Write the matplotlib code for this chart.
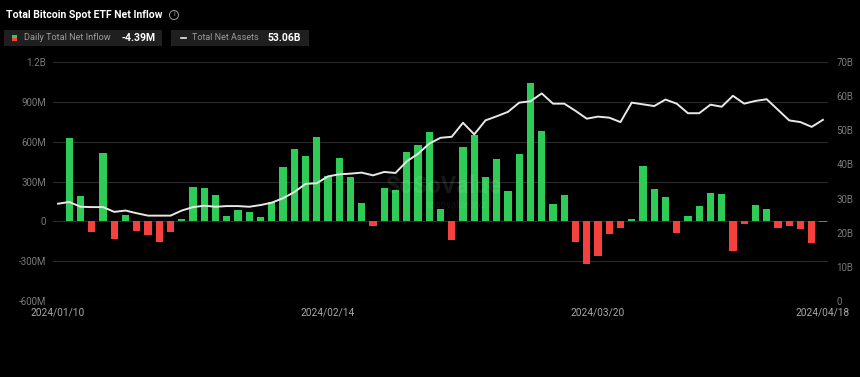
import numpy as np
import pandas as pd
import matplotlib
matplotlib.use("Agg")
import matplotlib.pyplot as plt
import matplotlib.patches as mpatches

plt.rcParams["font.family"] = ["Roboto", "DejaVu Sans"]

# trading days, 2024/01/10 -> 2024/04/18
days = pd.bdate_range("2024-01-10", "2024-04-18")
days = days.drop(pd.to_datetime(["2024-01-15", "2024-02-19", "2024-03-29"]))
date_labels = [d.strftime("%Y/%m/%d") for d in days]

# daily total net inflow (million USD)
inflow_m = [
    np.nan, 628, 193, -80, 517, -135, 45, -75, -105, -158,
    -80, 17, 258, 250, 200, 40, 83, 70, 35, 148,
    408, 543, 493, 633, 345, 478, 335, 138, -35, 253,
    235, 520, 578, 673, 95, -138, 563, 648, 335, 473,
    225, 505, 1045, 683, 134, 200, -153, -323, -260, -93,
    -50, 17, 418, 245, 185, -85, 43, 115, 215, 205,
    -223, -18, 125, 95, -53, -35, -58, -163, -4.39,
]

# total net assets (billion USD)
assets_b = [
    28.5, 29.0, 27.6, 27.5, 27.5, 26.1, 26.5, 25.7, 25.0, 25.0,
    25.0, 26.5, 27.5, 27.9, 27.6, 27.8, 27.8, 27.6, 28.1, 28.8,
    30.1, 31.9, 34.3, 34.5, 36.5, 37.1, 37.3, 37.6, 36.8, 37.8,
    37.5, 40.9, 43.1, 46.1, 47.8, 48.1, 52.2, 48.8, 52.9, 54.1,
    55.4, 58.1, 58.5, 60.8, 57.8, 57.8, 55.7, 53.4, 54.0, 53.7,
    52.4, 58.1, 57.6, 57.1, 59.0, 57.8, 55.0, 55.0, 57.5, 56.9,
    60.1, 57.8, 58.6, 59.1, 56.0, 52.9, 52.4, 51.0, 53.06,
]

left_ticks = [-600, -300, 0, 300, 600, 900, 1200]
left_labels = ["-600M", "-300M", "0", "300M", "600M", "900M", "1.2B"]
right_ticks = [0, 10, 20, 30, 40, 50, 60, 70]
right_labels = ["0", "10B", "20B", "30B", "40B", "50B", "60B", "70B"]
x_tick_idx = [0, 24, 48, 68]

VERT = "#2FCB57"
ROUGE = "#F5413D"
FOND = "#000000"
GRILLE = "#2B2B2B"
TXT_AXE = "#7A7A7A"
BLANC = "#E8E8E8"

fig = plt.figure(figsize=(8.6, 3.77), dpi=100)
fig.patch.set_facecolor(FOND)

ax = fig.add_axes([53 / 860, 76 / 377, 775 / 860, 239 / 377])
ax.set_facecolor(FOND)
x = np.arange(len(days))
vals = np.array(inflow_m, dtype=float)
couleurs = [VERT if v >= 0 else ROUGE for v in np.nan_to_num(vals)]
ax.bar(x, np.nan_to_num(vals), width=0.65, color=couleurs, zorder=2)

ax.set_xlim(-0.45, len(days) - 0.55)
ax.set_ylim(-600, 1200)
ax.set_yticks(left_ticks)
ax.set_yticklabels(left_labels)
ax.set_xticks(x_tick_idx)
ax.set_xticklabels([date_labels[i] for i in x_tick_idx])
ax.grid(axis="y", color=GRILLE, linewidth=0.8, zorder=0)
ax.tick_params(axis="y", length=0, pad=5, labelsize=7, labelcolor=TXT_AXE)
ax.tick_params(axis="x", length=0, pad=5, labelsize=7.3, labelcolor="#A8A8A8")
for s in ax.spines.values():
    s.set_visible(False)

ax2 = ax.twinx()
ax2.plot(x, assets_b, color=BLANC, linewidth=1.4, zorder=3)
ax2.set_ylim(0, 70)
ax2.set_yticks(right_ticks)
ax2.set_yticklabels(right_labels)
ax2.tick_params(axis="y", length=0, pad=6, labelsize=7, labelcolor=TXT_AXE)
for s in ax2.spines.values():
    s.set_visible(False)

# watermark
fig.text(0.515, 0.505, "SoSoValue", color="white", alpha=0.09, fontsize=17,
         fontweight="bold", ha="center", va="center")
fig.text(0.53, 0.455, "sosovalue.xyz", color="white", alpha=0.08, fontsize=7,
         ha="center", va="center")

# title
fig.text(6 / 860, 1 - 15 / 377, "Total Bitcoin Spot ETF Net Inflow", color="white",
         fontsize=7.6, fontweight="bold", va="center", ha="left")
fig.patches.append(mpatches.Ellipse((174 / 860, 1 - 15 / 377), 9 / 860, 9 / 377,
                                    transform=fig.transFigure, fill=False,
                                    edgecolor="#9A9A9A", linewidth=0.7))
fig.text(174 / 860, 1 - 15 / 377, "i", color="#9A9A9A", fontsize=5,
         ha="center", va="center")

# legend boxes
def boite(x0, x1):
    fig.patches.append(mpatches.Rectangle((x0 / 860, 1 - 46 / 377), (x1 - x0) / 860,
                                          16 / 377, transform=fig.transFigure,
                                          facecolor="#1F1F1F", edgecolor="none"))

boite(4, 162)
fig.patches.append(mpatches.Rectangle((12 / 860, 1 - 38 / 377), 5 / 860, 3 / 377,
                                      transform=fig.transFigure, facecolor=VERT))
fig.patches.append(mpatches.Rectangle((12 / 860, 1 - 41 / 377), 5 / 860, 3 / 377,
                                      transform=fig.transFigure, facecolor=ROUGE))
fig.text(24 / 860, 1 - 38 / 377, "Daily Total Net Inflow", color="#9A9A9A",
         fontsize=6.6, va="center")
fig.text(122 / 860, 1 - 38 / 377, "-4.39M", color="white", fontsize=7.5,
         fontweight="bold", va="center")

boite(171, 309)
fig.lines.append(plt.Line2D([181 / 860, 186 / 860], [1 - 38 / 377, 1 - 38 / 377],
                            transform=fig.transFigure, color=BLANC, linewidth=1.2))
fig.text(192 / 860, 1 - 38 / 377, "Total Net Assets", color="#9A9A9A",
         fontsize=6.5, va="center")
fig.text(268 / 860, 1 - 38 / 377, "53.06B", color="white", fontsize=7.5,
         fontweight="bold", va="center")

fig.savefig("out.png", dpi=100, facecolor=FOND)
